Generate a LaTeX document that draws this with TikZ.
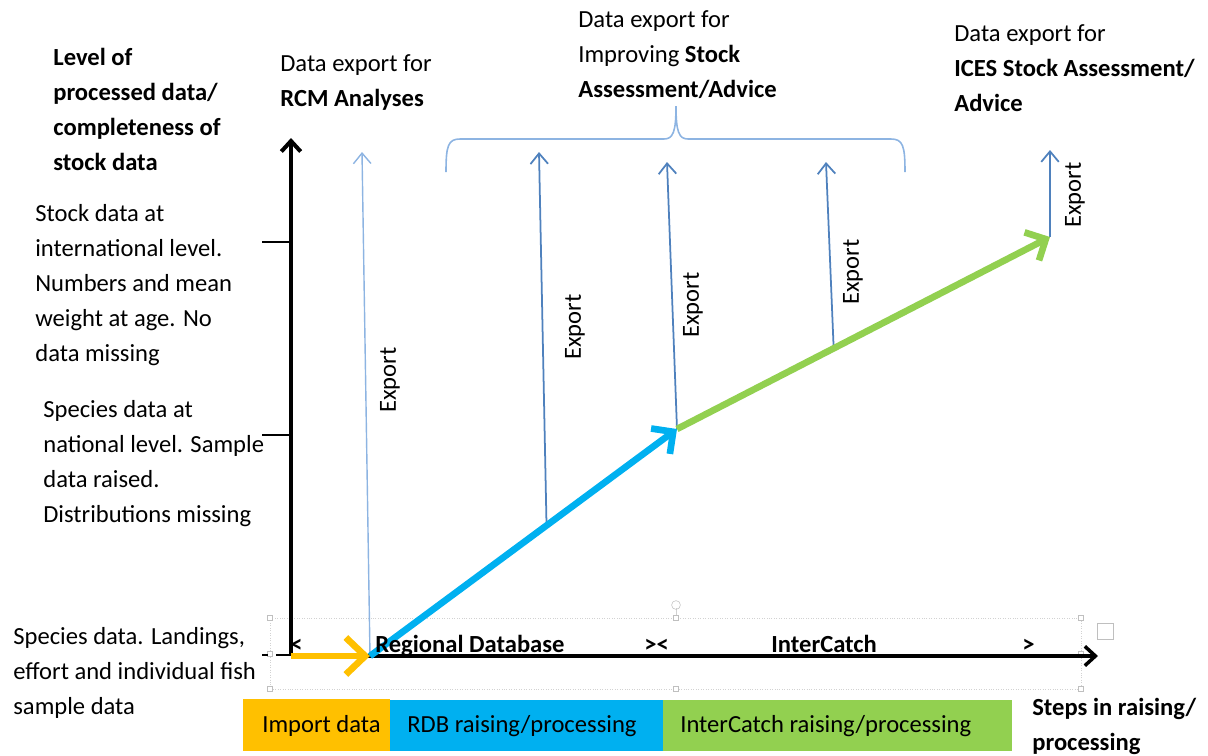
\documentclass[tikz,border=0pt]{standalone}
\usepackage{fontspec}
\setmainfont{Carlito}
\usepackage{tikz}
\usetikzlibrary{arrows.meta}
\usetikzlibrary{positioning}
\usetikzlibrary{calc}
\definecolor{impyellow}{RGB}{255,192,0}
\definecolor{rdbblue}{RGB}{0,176,240}
\definecolor{icgreen}{RGB}{146,208,80}
\definecolor{exblue}{RGB}{79,129,189}
\definecolor{lightblue}{RGB}{141,180,226}
% multi-line nodes sit on the baseline of their last line
\tikzstyle{txt}=[inner sep=0pt,anchor=base west,align=left,font=\fontsize{14}{19.8}\selectfont]
\tikzstyle{bold}=[inner sep=0pt,anchor=base west,align=left,font=\fontsize{14}{19.8}\selectfont\bfseries]
\tikzstyle{exptxt}=[inner sep=0pt,rotate=90,font=\fontsize{14}{16}\selectfont]
\tikzstyle{exparrow}=[exblue,line width=1pt,-{Straight Barb[length=6pt,width=10pt]}]
\tikzstyle{steparrow}=[line width=3.8pt,-{Straight Barb[length=9pt,width=18pt]}]
\tikzstyle{handle}=[draw=gray!50,fill=white,line width=0.3pt,minimum size=3pt,inner sep=0pt]

\begin{document}
\begin{tikzpicture}[x=0.02cm,y=-0.02cm]
\useasboundingbox (0,0) rectangle (1208,755);

% selection frame round the axis
\draw[gray!35,densely dotted,line width=0.4pt] (270,618) rectangle (1081,689);
\draw[gray!35,line width=0.3pt] (676,618) -- (676,608);
\node[draw=gray!50,circle,inner sep=0pt,minimum size=5pt,line width=0.3pt] (rot) at (676,605) {};
\foreach \hx/\hy [count=\i] in {270/618,676/618,1081/618,270/654,1081/654,270/689,676/689,1081/689}
  \node[handle] (h\i) at (\hx,\hy) {};
\node[draw=gray!50,line width=0.3pt,minimum size=9pt,inner sep=0pt] (opt) at (1105,631) {};

% axes
\coordinate (O) at (291,656);
\coordinate (Ytop) at (291,138);
\coordinate (Xend) at (1098,656);
\draw[line width=2.3pt,-{Straight Barb[length=6pt,width=11pt]}] (O) -- (Ytop);
\draw[line width=2pt,-{Straight Barb[length=6pt,width=11pt]}] (O) -- (Xend);
\draw[line width=1.2pt] (262,242) -- (291,242);
\draw[line width=1.2pt] (262,435) -- (291,435);
\draw[line width=1.2pt] (262,655) -- (268,655) (276,655) -- (291,655);

% steps
\coordinate (A) at (370,656);
\coordinate (B) at (677,429);
\coordinate (C) at (1050,237);

% export arrows
\coordinate (rcm) at (362,152);
\coordinate (e1) at ($(A)!0.575!(B)$);
\coordinate (e1top) at (539,152);
\coordinate (e2top) at (667,162);
\coordinate (e3) at ($(B)!0.42!(C)$);
\coordinate (e3top) at (826,162);
\coordinate (e4top) at (1050,150);
\draw[exparrow,lightblue,line width=0.8pt] (A) -- (rcm);
\draw[exparrow] (e1) -- (e1top);
\draw[exparrow] (B) -- (e2top);
\draw[exparrow] (e3) -- (e3top);
\draw[exparrow] (C) -- (e4top);

\draw[steparrow,impyellow,-{Straight Barb[length=11pt,width=21pt]}] (O) -- (A);
\draw[steparrow,rdbblue] (A) -- (B);
\draw[steparrow,icgreen] (B) -- (C);

\node[exptxt] (x0) at (390,380) {Export};
\node[exptxt] (x1) at (575,327) {Export};
\node[exptxt] (x2) at (693,305) {Export};
\node[exptxt] (x3) at (853,272) {Export};
\node[exptxt] (x4) at (1075,195) {Export};

% brace over the middle exports
\coordinate (bl) at (446,172);
\coordinate (bm) at (676,106);
\coordinate (br) at (905,172);
\draw[lightblue,line width=0.9pt] (bl) .. controls (446,146) and (448,139) .. (460,139) -- (664,139)
  .. controls (673,139) and (676,132) .. (bm) .. controls (676,132) and (679,139) .. (688,139)
  -- (891,139) .. controls (903,139) and (905,146) .. (br);

% titles
\node[bold] (ylab) at (53,170) {Level of\\processed data/\\completeness of\\stock data};
\node[txt] (rcmlab) at (280,106) {Data export for\\\textbf{RCM Analyses}};
\node[txt] (implab) at (578,97) {Data export for\\Improving \textbf{Stock}\\\textbf{Assessment/Advice}};
\node[txt] (iceslab) at (954,111) {Data export for\\\textbf{ICES Stock Assessment/}\\\textbf{Advice}};

% levels
\node[txt] (lev3) at (35,361) {Stock data at\\international level.\\Numbers and mean\\weight at age. No\\data missing};
\node[txt] (lev2) at (43,522) {Species data at\\national level. Sample\\data raised.\\Distributions missing};
\node[txt] (lev1) at (13,714) {Species data. Landings,\\effort and individual fish\\sample data};

% text on the x axis
\node[bold] (lt) at (290,652) {<};
\node[bold] (rdb) at (375,652) {Regional Database};
\node[bold] (mid) at (644,652) {><};
\node[bold] (ic) at (771,652) {InterCatch};
\node[bold] (gt) at (1022,652) {>};

% steps bar
\fill[impyellow] (243,699) rectangle (390,751);
\fill[rdbblue] (390,700) rectangle (663,751);
\fill[icgreen] (663,700) rectangle (1012,751);
\node[txt] (s1) at (262,732) {Import data};
\node[txt] (s2) at (407,732) {RDB raising/processing};
\node[txt] (s3) at (680,732) {InterCatch raising/processing};
\node[bold] (xlab) at (1032,750) {Steps in raising/\\processing};
\end{tikzpicture}
\end{document}
